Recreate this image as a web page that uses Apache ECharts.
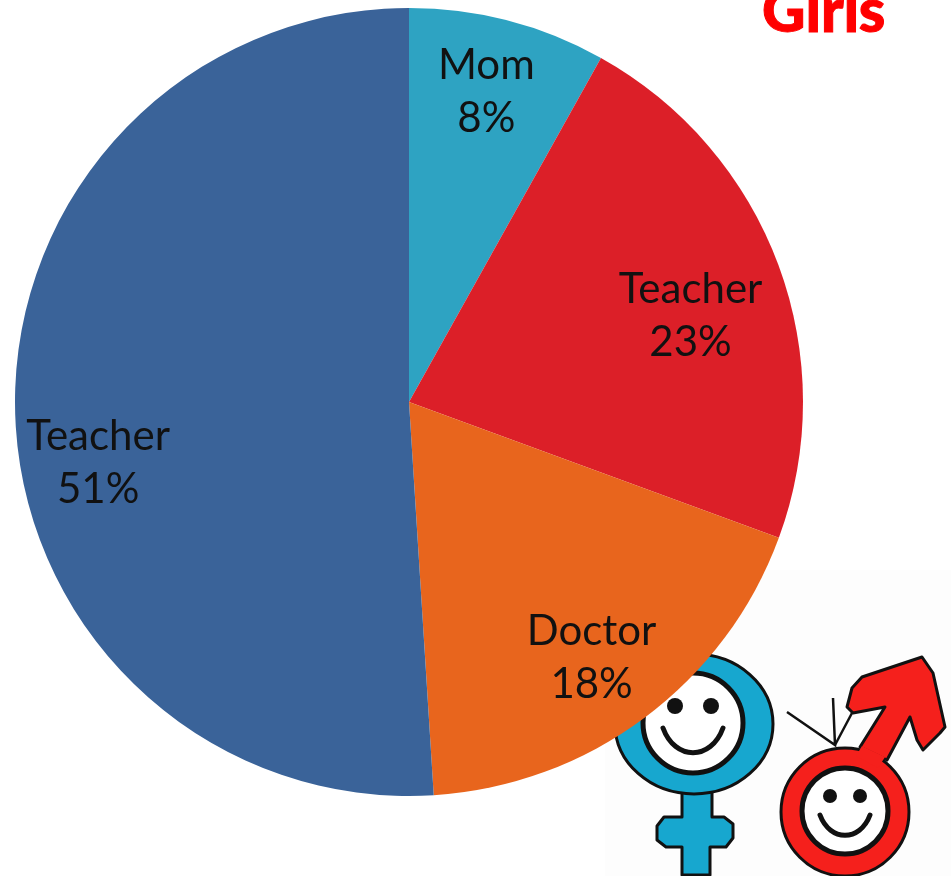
<!DOCTYPE html>
<html>
<head>
<meta charset="utf-8">
<style>
    html, body { margin: 0; padding: 0; background: #fff; }
    #pie { width: 951px; height: 876px; }
</style>
</head>
<body>
<div id="pie"></div>
<script src="https://cdn.jsdelivr.net/npm/echarts@6/dist/echarts.min.js"></script>
<script type="text/javascript">
    var categories = ['Mom', 'Teacher', 'Doctor', 'Teacher'];
    var percents = [8.1, 22.5, 18.4, 51];
    var sliceColors = ['#2ea3c2', '#dc1f28', '#e8651d', '#3a6399'];
    var labelShifts = [[27, -116], [94, -17], [63, 96], [-111, 55]];

    var ink = '#111';
    var blue = '#17a7cf';
    var red = '#f5201c';

    // little smiley pictures in the corner, female one sits behind the pie
    function face(cx, cy, r, eyeGap, eyeY, eyeR, smileW, smileTop, smileDip) {
        return [
            { type: 'circle', z: 1, shape: { cx: cx, cy: cy, r: r }, style: { fill: '#fff', stroke: ink, lineWidth: 5 } },
            { type: 'circle', z: 1, shape: { cx: cx - eyeGap, cy: eyeY, r: eyeR }, style: { fill: ink } },
            { type: 'circle', z: 1, shape: { cx: cx + eyeGap, cy: eyeY, r: eyeR }, style: { fill: ink } },
            {
                type: 'bezierCurve', z: 1,
                shape: {
                    x1: cx - smileW, y1: smileTop, x2: cx + smileW, y2: smileTop,
                    cpx1: cx - smileW * 0.6, cpy1: smileTop + smileDip,
                    cpx2: cx + smileW * 0.6, cpy2: smileTop + smileDip
                },
                style: { fill: 'none', stroke: ink, lineWidth: 5, lineCap: 'round' }
            }
        ];
    }

    var pictures = [
        { type: 'rect', z: 0, shape: { x: 605, y: 570, width: 346, height: 306 }, style: { fill: '#fdfdfd' } },
        { type: 'polygon', z: 1, shape: { points: [[682, 790], [682, 817], [664, 817], [657, 826], [657, 840], [666, 847], [682, 847], [682, 875], [710, 875], [710, 847], [726, 847], [733, 838], [733, 824], [724, 817], [712, 817], [712, 790]] }, style: { fill: blue, stroke: ink, lineWidth: 3, lineJoin: 'round' } },
        { type: 'ellipse', z: 1, shape: { cx: 694, cy: 724, rx: 79, ry: 70 }, style: { fill: blue, stroke: ink, lineWidth: 3 } },
        { type: 'polygon', z: 1, shape: { points: [[860, 747], [885, 707], [853, 713], [847, 707], [852, 688], [862, 677], [922, 657], [933, 673], [945, 727], [940, 733], [923, 750], [917, 740], [910, 717], [887, 760]] }, style: { fill: red, stroke: ink, lineWidth: 3, lineJoin: 'round' } },
        { type: 'circle', z: 1, shape: { cx: 845, cy: 812, r: 64 }, style: { fill: red, stroke: ink, lineWidth: 3 } },
        // joins the arrow shaft to the ring, no outline across it
        { type: 'polygon', z: 1, shape: { points: [[862, 746], [885, 757], [878, 768], [856, 756]] }, style: { fill: red } },
        { type: 'polyline', z: 1, shape: { points: [[787, 712], [835, 745], [833, 698]] }, style: { fill: 'none', stroke: ink, lineWidth: 2.5 } },
        { type: 'line', z: 1, shape: { x1: 835, y1: 745, x2: 852, y2: 713 }, style: { stroke: ink, lineWidth: 2.5 } }
    ].concat(
        face(693, 723, 50, 18, 706, 8, 30, 728, 33),
        face(845, 811, 43, 15, 796, 7, 25, 815, 27)
    );

    var pieChart = echarts.init(document.getElementById('pie'));
    pieChart.setOption({
        animation: false,
        title: {
            text: 'Girls',
            left: 757,
            top: -22,
            textStyle: { color: '#ff0000', fontFamily: 'Lato', fontWeight: 900, fontSize: 60, textBorderColor: '#ff0000', textBorderWidth: 1 }
        },
        graphic: pictures,
        series: [
            {
                type: 'pie',
                z: 5,
                radius: 394,
                center: [409, 402],
                startAngle: 90,
                clockwise: true,
                data: categories.map(function (name, i) {
                    return { name: name, value: percents[i], itemStyle: { color: sliceColors[i] } };
                }),
                label: {
                    show: true,
                    position: 'inside',
                    formatter: function (p) {
                        return p.name + '\n' + Math.round(p.value) + '%';
                    },
                    color: '#111',
                    fontFamily: 'Lato',
                    fontSize: 42,
                    lineHeight: 53,
                    align: 'center'
                },
                labelLine: { show: false },
                labelLayout: function (params) {
                    var shift = labelShifts[params.dataIndex];
                    return { dx: shift[0], dy: shift[1] };
                },
                emphasis: { disabled: true }
            }
        ]
    });
</script>
</body>
</html>
